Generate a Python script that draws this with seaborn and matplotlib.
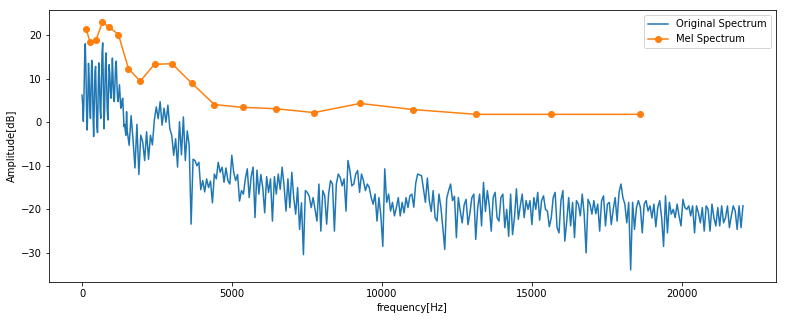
import numpy as np
import matplotlib
matplotlib.use("Agg")
import matplotlib.pyplot as plt
import seaborn as sns

# ---------------- data ----------------
# Original spectrum, 0 - ~1500 Hz, one value per FFT bin (bin width 22050/1024 Hz)
orig_db_low = [
    6.2, 4.0, 0.2, 6.0, 14.5, 18.0, 12.0, 3.0, -1.8, 5.0,
    13.5, 10.0, 3.5, 0.9, 8.0, 14.2, 11.0, 2.0, -3.3, 4.0,
    11.5, 12.8, 5.0, -1.0, -2.4, 7.0, 13.6, 10.0, 3.0, 0.9,
    8.0, 16.0, 18.2, 8.0, -1.5, 3.0, 12.0, 15.9, 10.0, 3.0,
    0.5, 7.0, 13.2, 11.0, 7.0, 5.5, 9.0, 14.7, 10.0, 5.5,
    4.7, 9.0, 13.0, 14.0, 9.0, 5.5, 4.7, 6.5, 8.6, 6.0,
    3.2, 3.5, 5.0, 5.5, 2.0, -1.0, -0.5, -2.0, -3.0, 2.4,
]

# Original spectrum, ~1500 - ~11000 Hz, every third FFT bin
orig_db_mid = [
    -2.0, -5.3, 1.5, -4.0, -10.5, -0.5, -12.0, -3.0, -4.5, -8.8,
    -2.2, -8.5, -3.0, -5.2, 0.5, 3.5, 0.8, 4.7, -0.7, 3.2,
    0.0, 3.9, -1.5, -3.0, -7.6, -3.8, -10.3, 0.1, -7.5, 1.2,
    -8.8, -2.0, -5.3, -23.4, -8.5, -8.8, -10.0, -9.2, -15.5, -13.4,
    -16.0, -13.0, -15.0, -13.5, -18.5, -11.9, -13.0, -9.2, -11.5, -10.3,
    -13.8, -10.5, -13.4, -14.2, -7.6, -11.5, -13.4, -12.0, -18.1, -15.7,
    -16.5, -13.0, -10.7, -17.3, -12.5, -10.3, -21.9, -11.0, -16.5, -12.0,
    -15.0, -20.8, -12.5, -16.1, -13.0, -22.7, -12.5, -16.5, -11.9, -15.4,
    -10.3, -14.6, -20.4, -13.0, -19.6, -11.5, -17.3, -21.1, -15.0, -24.6,
    -18.5, -30.4, -15.7, -16.1, -17.0, -19.6, -17.3, -20.0, -22.7, -14.2,
    -25.0, -15.7, -16.9, -23.4, -16.5, -13.4, -14.2, -25.0, -14.2, -11.9,
    -12.7, -14.6, -13.0, -20.4, -8.8, -11.1, -14.6, -14.2, -11.9, -11.1,
    -16.1, -11.9, -13.4, -15.7, -14.2, -15.0, -17.3, -18.8, -16.5, -22.7,
    -17.3, -21.5, -28.5, -10.7, -18.4, -16.5, -20.4, -18.4, -21.5, -19.6,
    -17.3, -21.5, -18.4, -20.8, -17.3, -19.6, -16.9,
]

# Original spectrum, ~11000 - 22050 Hz, every third FFT bin
orig_db_high = [
    -16.5, -19.5, -14.0, -11.9, -12.1, -12.3, -15.3, -18.4, -12.8, -18.0,
    -20.5, -15.7, -21.9, -22.7, -16.5, -19.5, -24.2, -29.2, -17.5, -15.7,
    -14.2, -18.0, -17.0, -26.5, -17.3, -20.4, -23.1, -19.0, -17.7, -23.5,
    -20.8, -17.3, -16.5, -26.9, -19.6, -16.5, -23.8, -13.8, -20.5, -15.7,
    -19.2, -25.0, -17.3, -16.1, -21.9, -22.7, -17.3, -16.5, -24.2, -20.0,
    -26.2, -16.5, -25.8, -21.9, -15.3, -22.3, -19.2, -16.5, -21.9, -18.0,
    -20.0, -18.0, -23.5, -17.3, -20.0, -16.1, -22.5, -18.0, -16.9, -20.0,
    -20.4, -24.0, -21.9, -17.3, -16.1, -24.2, -25.4, -18.0, -15.7, -27.3,
    -22.7, -17.3, -23.8, -18.4, -26.5, -18.0, -18.8, -21.5, -16.5, -21.1,
    -30.0, -17.7, -18.8, -21.1, -18.0, -21.0, -18.8, -25.0, -18.0, -16.9,
    -23.8, -18.8, -18.4, -23.5, -20.0, -17.3, -22.7, -16.1, -14.2, -17.3,
    -18.8, -23.1, -18.4, -33.9, -18.4, -24.6, -19.6,
    -18.0, -19.5, -25.4, -18.8, -18.0, -20.4, -19.2, -22.0, -18.8, -24.0,
    -19.6, -18.0, -21.9, -28.5, -16.9, -25.4, -18.4, -21.1, -20.0, -21.9,
    -18.8, -21.5, -23.8, -17.7, -19.6, -20.0, -19.2, -21.5, -19.2, -25.4,
    -19.2, -20.8, -23.1, -19.6, -25.0, -19.2, -20.0, -25.0, -18.8, -21.9,
    -23.8, -19.6, -23.8, -19.2, -23.1, -21.9, -19.2, -24.2, -21.5, -19.2,
    -20.4, -24.6, -19.2, -24.2, -19.2,
]

# Mel spectrum (filter centre frequency, amplitude)
mel_freq = [134, 268, 468, 679, 913, 1214, 1548, 1940, 2418, 3000,
            3669, 4415, 5361, 6455, 7736, 9274, 11047, 13154, 15652, 18605]
mel_db = [21.4, 18.4, 18.9, 22.9, 21.8, 20.1, 12.3, 9.4, 13.3, 13.4,
          8.9, 4.05, 3.4, 3.1, 2.2, 4.3, 2.9, 1.8, 1.8, 1.8]

x_label = "frequency[Hz]"
y_label = "Amplitude[dB]"

# FFT bin grid (Nyquist 22050 Hz, 1024 bins)
bin_hz = 22050 / 1024
low_bins = np.arange(len(orig_db_low))
coarse_bins = len(orig_db_low) + 3 * np.arange(len(orig_db_mid) + len(orig_db_high))
orig_freq = np.concatenate([low_bins, coarse_bins]) * bin_hz
orig_db = np.array(orig_db_low + orig_db_mid + orig_db_high)

# ---------------- plot ----------------
W, H = 785, 320
fig = plt.figure(figsize=(W / 72, H / 72), dpi=72)
ax = fig.add_axes([49 / W, (H - 282.3) / H, (776 - 49) / W, (282.3 - 10) / H])

sns.lineplot(x=orig_freq, y=orig_db, ax=ax, color="#1f77b4", linewidth=1.5,
             label="Original Spectrum", estimator=None, sort=False)
sns.lineplot(x=mel_freq, y=mel_db, ax=ax, color="#ff7f0e", linewidth=1.5,
             marker="o", markersize=6, markeredgecolor="#ff7f0e",
             markeredgewidth=1.0, label="Mel Spectrum", estimator=None, sort=False)

ax.set_xlabel(x_label)
ax.set_ylabel(y_label)
ax.legend(loc="upper right")

fig.savefig("out.png", dpi=72)
